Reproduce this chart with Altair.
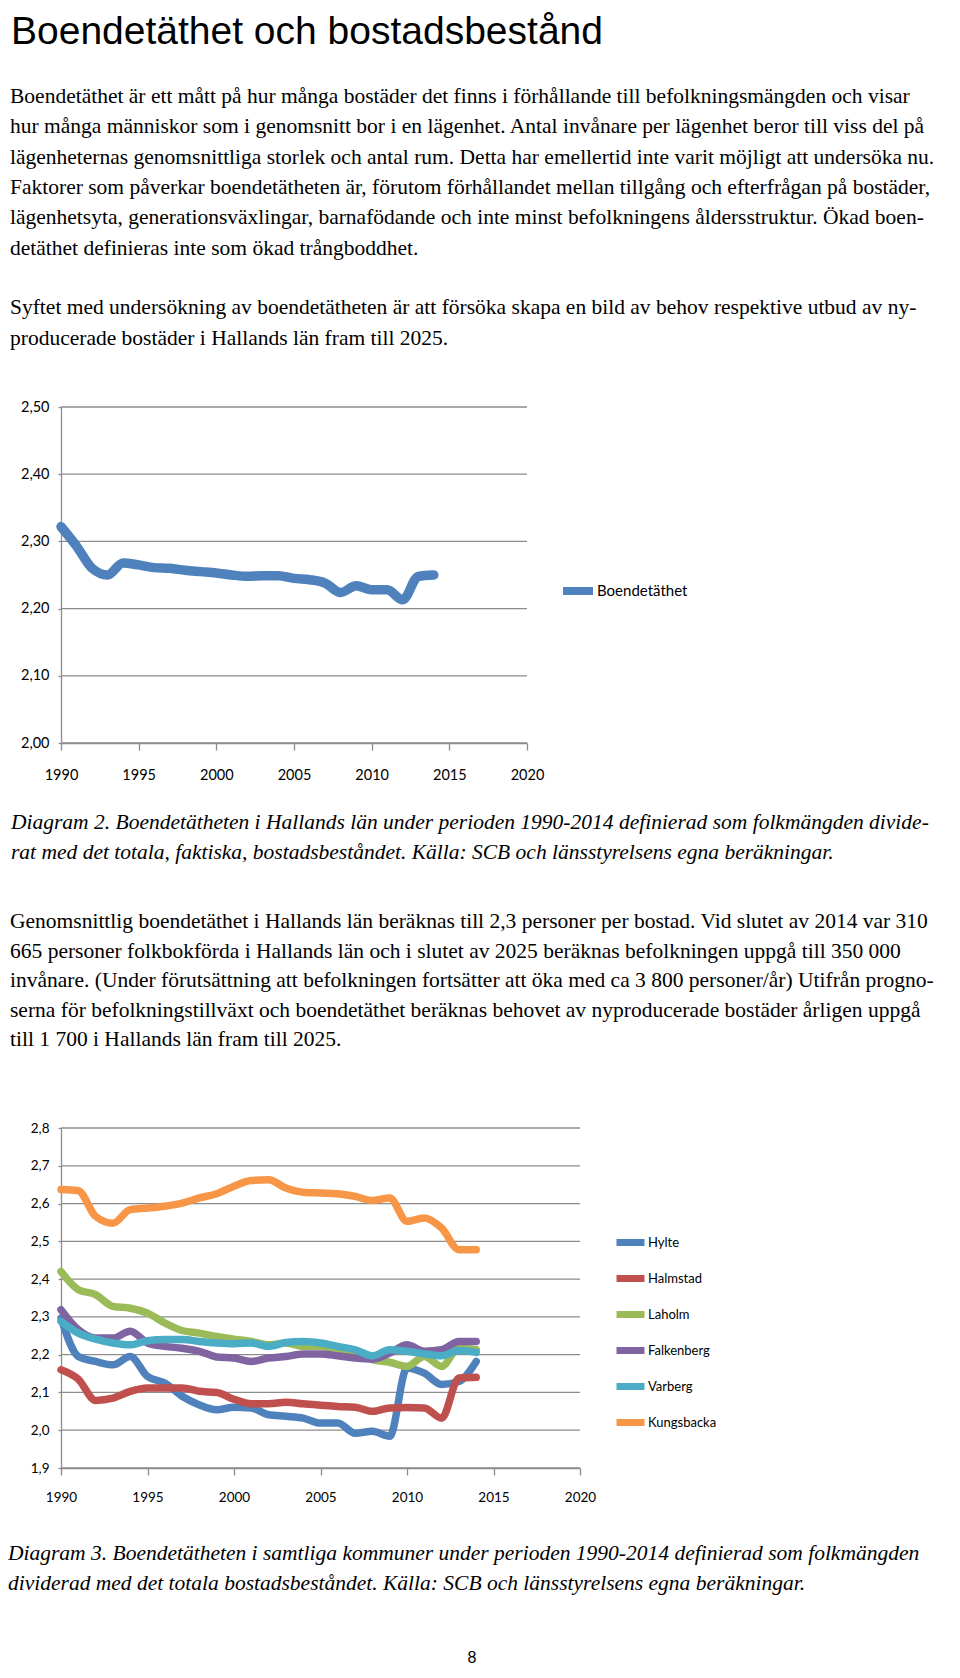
import altair as alt
import pandas as pd

# ---------------- data ----------------
years = list(range(1990, 2015))

boendetathet = [2.322, 2.293, 2.260, 2.250, 2.268, 2.265, 2.261, 2.260, 2.257, 2.255,
                2.253, 2.250, 2.248, 2.249, 2.249, 2.245, 2.243, 2.238, 2.224, 2.234,
                2.228, 2.228, 2.213, 2.248, 2.250]

kommuner = ["Hylte", "Halmstad", "Laholm", "Falkenberg", "Varberg", "Kungsbacka"]
hylte = [2.297, 2.195, 2.182, 2.173, 2.195, 2.142, 2.125, 2.090, 2.067, 2.054,
         2.061, 2.059, 2.041, 2.037, 2.032, 2.019, 2.019, 1.992, 1.997, 1.984,
         2.165, 2.151, 2.121, 2.129, 2.182]
halmstad = [2.160, 2.135, 2.079, 2.085, 2.103, 2.112, 2.112, 2.112, 2.103, 2.100,
            2.082, 2.070, 2.070, 2.074, 2.070, 2.066, 2.063, 2.061, 2.050, 2.059,
            2.060, 2.059, 2.032, 2.138, 2.140]
laholm = [2.420, 2.372, 2.359, 2.328, 2.323, 2.310, 2.284, 2.264, 2.257, 2.248,
          2.241, 2.235, 2.226, 2.231, 2.222, 2.222, 2.211, 2.204, 2.187, 2.180,
          2.169, 2.195, 2.169, 2.217, 2.213]
falkenberg = [2.319, 2.266, 2.244, 2.244, 2.262, 2.231, 2.222, 2.217, 2.209, 2.194,
              2.191, 2.182, 2.191, 2.195, 2.202, 2.202, 2.197, 2.191, 2.188, 2.204,
              2.226, 2.209, 2.213, 2.235, 2.235]
varberg = [2.288, 2.257, 2.241, 2.231, 2.226, 2.237, 2.240, 2.240, 2.235, 2.231,
           2.229, 2.231, 2.222, 2.232, 2.235, 2.231, 2.222, 2.213, 2.197, 2.213,
           2.209, 2.202, 2.197, 2.211, 2.206]
kungsbacka = [2.637, 2.634, 2.566, 2.548, 2.584, 2.588, 2.593, 2.601, 2.615, 2.626,
              2.646, 2.661, 2.663, 2.641, 2.630, 2.628, 2.626, 2.619, 2.608, 2.615,
              2.553, 2.562, 2.535, 2.478, 2.478]
kommun_colors = ["#4F81BD", "#C0504D", "#9BBB59", "#8064A2", "#4BACC6", "#F79646"]

x_ticks = [1990, 1995, 2000, 2005, 2010, 2015, 2020]
y1_ticks = [2.0, 2.1, 2.2, 2.3, 2.4, 2.5]
y2_ticks = [1.9, 2.0, 2.1, 2.2, 2.3, 2.4, 2.5, 2.6, 2.7, 2.8]

title_text = "Boendetäthet och bostadsbestånd"
para1 = [
    "Boendetäthet är ett mått på hur många bostäder det finns i förhållande till befolkningsmängden och visar",
    "hur många människor som i genomsnitt bor i en lägenhet. Antal invånare per lägenhet beror till viss del på",
    "lägenheternas genomsnittliga storlek och antal rum. Detta har emellertid inte varit möjligt att undersöka nu.",
    "Faktorer som påverkar boendetätheten är, förutom förhållandet mellan tillgång och efterfrågan på bostäder,",
    "lägenhetsyta, generationsväxlingar, barnafödande och inte minst befolkningens åldersstruktur. Ökad boen-",
    "detäthet definieras inte som ökad trångboddhet.",
]
para2 = [
    "Syftet med undersökning av boendetätheten är att försöka skapa en bild av behov respektive utbud av ny-",
    "producerade bostäder i Hallands län fram till 2025.",
]
caption2 = [
    "Diagram 2. Boendetätheten i Hallands län under perioden 1990-2014 definierad som folkmängden divide-",
    "rat med det totala, faktiska, bostadsbeståndet. Källa: SCB och länsstyrelsens egna beräkningar.",
]
para3 = [
    "Genomsnittlig boendetäthet i Hallands län beräknas till 2,3 personer per bostad. Vid slutet av 2014 var 310",
    "665 personer folkbokförda i Hallands län och i slutet av 2025 beräknas befolkningen uppgå till 350 000",
    "invånare. (Under förutsättning att befolkningen fortsätter att öka med ca 3 800 personer/år) Utifrån progno-",
    "serna för befolkningstillväxt och boendetäthet beräknas behovet av nyproducerade bostäder årligen uppgå",
    "till 1 700 i Hallands län fram till 2025.",
]
caption3 = [
    "Diagram 3. Boendetätheten i samtliga kommuner under perioden 1990-2014 definierad som folkmängden",
    "dividerad med det totala bostadsbeståndet. Källa: SCB och länsstyrelsens egna beräkningar.",
]
page_number = ["8"]

# ---------------- page geometry (one view for the whole page) ----------------
W, H = 944, 1660
SERIF = "Liberation Serif"
SANS = "Liberation Sans"
CHART_FONT = "Lato, Liberation Sans, sans-serif"
GRID = "#8C8C8C"
BODY = 21.5

# plot areas, in page-view pixels
C1_X = [53, 519]
C1_Y = [735, 399]
C2_X = [53, 572]
C2_Y = [1460, 1120]


def text_block(lines, x, y0, dy, font=SERIF, size=BODY, style="normal", align="left"):
    df = pd.DataFrame({"t": lines, "i": list(range(len(lines)))})
    return (
        alt.Chart(df)
        .transform_calculate(py=f"{y0} + datum.i * {dy}")
        .mark_text(align=align, baseline="middle", font=font, fontSize=size,
                   fontStyle=style, color="black")
        .encode(x=alt.value(x), y=alt.Y("py:Q", scale=None, axis=None), text="t:N")
    )


def x_axis(y_pos, label_size, label_pad):
    return alt.Axis(orient="bottom", offset=-(H - y_pos), values=x_ticks, format="d",
                    grid=False, title=None, domainColor=GRID, domainWidth=1.3,
                    tickColor=GRID, tickSize=7, tickWidth=1.3, labelFont=CHART_FONT,
                    labelFontSize=label_size, labelColor="black",
                    labelPadding=label_pad, labelFlush=False)


def y_axis(x_pos, ticks, fmt, label_size):
    return alt.Axis(orient="left", offset=-x_pos, values=ticks, title=None, grid=False,
                    domainColor=GRID, domainWidth=1.3, tickColor=GRID, tickSize=3,
                    tickWidth=1.3, labelFont=CHART_FONT, labelFontSize=label_size,
                    labelColor="black", labelPadding=9,
                    labelExpr=f"replace(format(datum.value, '{fmt}'), '.', ',')")


def line_panel(df, series_field, domain_y, ticks_y, fmt, rng_x, rng_y, colors,
               stroke_w, label_size, x_pad, legend):
    xs = alt.Scale(domain=[1990, 2020], range=rng_x, nice=False)
    ys = alt.Scale(domain=domain_y, range=rng_y, nice=False, zero=False)
    xa = x_axis(rng_y[0], label_size, x_pad)
    ya = y_axis(rng_x[0], ticks_y, fmt, label_size)
    grid = alt.Chart(pd.DataFrame({"v": ticks_y})).mark_rule(
        color=GRID, strokeWidth=1.3
    ).encode(
        y=alt.Y("v:Q", scale=ys, axis=ya),
        x=alt.datum(1990, scale=xs, axis=xa),
        x2=alt.datum(2020),
    )
    lines = alt.Chart(df).mark_line(
        strokeWidth=stroke_w, interpolate="monotone", strokeCap="round", strokeJoin="round"
    ).encode(
        x=alt.X("År:Q", scale=xs, axis=xa),
        y=alt.Y("Värde:Q", scale=ys, axis=ya),
        color=alt.Color(f"{series_field}:N", sort=colors[0],
                        scale=alt.Scale(domain=colors[0], range=colors[1]),
                        legend=legend),
    )
    return alt.layer(grid, lines)


# ---------------- Diagram 2 ----------------
df1 = pd.DataFrame({"År": years, "Värde": boendetathet, "Serie": "Boendetäthet"})
legend1 = alt.Legend(orient="none", legendX=551, legendY=564, title=None,
                     symbolType="stroke", symbolSize=900, symbolStrokeWidth=8,
                     labelFont=CHART_FONT, labelFontSize=15, labelColor="black",
                     labelOffset=0)
chart1 = line_panel(df1, "Serie", [2.0, 2.5], y1_ticks, ".2f", C1_X, C1_Y,
                    (["Boendetäthet"], ["#4F81BD"]), 9.5, 14.5, 18, legend1)

# ---------------- Diagram 3 ----------------
series = [hylte, halmstad, laholm, falkenberg, varberg, kungsbacka]
rows = []
for name, vals in zip(kommuner, series):
    for yr, v in zip(years, vals):
        rows.append({"År": yr, "Värde": v, "Kommun": name})
df2 = pd.DataFrame(rows)
legend2 = alt.Legend(orient="none", legendX=605, legendY=1217, title=None,
                     symbolType="stroke", symbolSize=784, symbolStrokeWidth=7,
                     labelFont=CHART_FONT, labelFontSize=13, labelColor="black",
                     labelOffset=0, rowPadding=4)
chart2 = line_panel(df2, "Kommun", [1.9, 2.8], y2_ticks, ".1f", C2_X, C2_Y,
                    (kommuner, kommun_colors), 7.5, 13.5, 15, legend2)

# ---------------- text ----------------
texts = [
    text_block([title_text], 3, 24, 0, font=SANS, size=39),
    text_block(para1, 2, 89, 30.3),
    text_block(para2, 2, 300, 30.5),
    text_block(caption2, 3, 815, 30, style="italic"),
    text_block(para3, 2, 914, 29.6),
    text_block(caption3, 0, 1546, 29.5, style="italic"),
    text_block(page_number, 464, 1650, 0, font=SANS, size=16, align="center"),
]

chart = (
    alt.layer(*texts, chart1, chart2)
    .resolve_scale(x="independent", y="independent", color="independent")
    .properties(width=W, height=H, padding=0,
                autosize=alt.AutoSizeParams(type="none"))
    .configure_view(strokeOpacity=0)
)

chart.save("out.html", embed_options={"renderer": "svg", "actions": False})
